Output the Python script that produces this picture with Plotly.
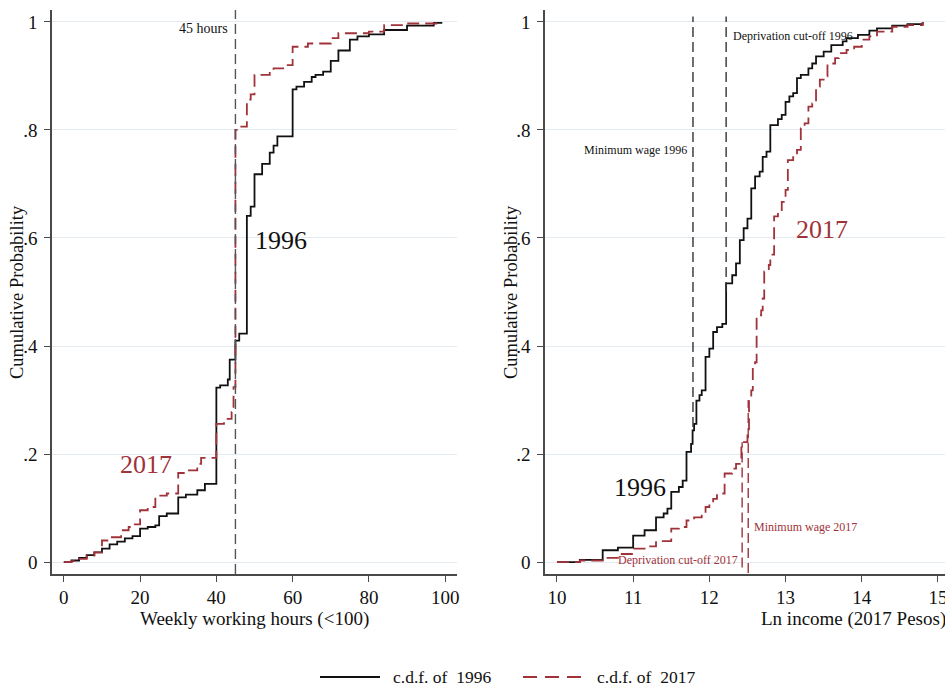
import plotly.graph_objects as go

# ---------------- data ----------------
# Left panel: weekly working hours
hours_1996_x = [0, 2, 4, 6, 8, 10, 12, 14, 16, 18, 20, 22, 24, 25, 27, 30, 32, 35, 37, 40, 41, 43, 43.5, 45, 46, 48, 49, 50, 52, 54, 55, 56, 60, 61, 63, 65, 66, 68, 70, 72, 75, 77, 80, 84, 90, 97, 99]
hours_1996_y = [0, 0.003, 0.008, 0.013, 0.018, 0.025, 0.033, 0.038, 0.044, 0.048, 0.062, 0.065, 0.068, 0.085, 0.090, 0.120, 0.125, 0.133, 0.145, 0.323, 0.327, 0.338, 0.375, 0.410, 0.423, 0.641, 0.658, 0.718, 0.737, 0.758, 0.771, 0.788, 0.875, 0.880, 0.889, 0.898, 0.902, 0.908, 0.928, 0.947, 0.967, 0.973, 0.977, 0.985, 0.993, 0.998, 1.0]

hours_2017_x = [0, 2, 4, 6, 8, 10, 12, 15, 17, 18, 20, 22, 24, 27, 30, 32, 35, 36, 40, 42, 44, 44.5, 45, 46, 48, 49, 50, 54, 55, 58, 60, 64, 70, 72, 80, 84, 90, 99]
hours_2017_y = [0, 0.002, 0.006, 0.012, 0.018, 0.040, 0.046, 0.059, 0.065, 0.070, 0.096, 0.102, 0.123, 0.127, 0.165, 0.170, 0.182, 0.193, 0.256, 0.265, 0.278, 0.324, 0.800, 0.806, 0.856, 0.866, 0.902, 0.908, 0.914, 0.920, 0.954, 0.960, 0.970, 0.979, 0.982, 0.994, 0.997, 1.0]

# Right panel: log income (2017 pesos)
inc_1996_x = [10.0, 10.3, 10.6, 10.8, 11.0, 11.15, 11.3, 11.4, 11.45, 11.5, 11.6, 11.65, 11.7, 11.76, 11.78, 11.8, 11.83, 11.87, 11.9, 11.95, 12.0, 12.05, 12.1, 12.17, 12.22, 12.3, 12.35, 12.4, 12.45, 12.5, 12.55, 12.6, 12.66, 12.7, 12.75, 12.8, 12.9, 12.95, 13.0, 13.05, 13.1, 13.15, 13.2, 13.3, 13.35, 13.4, 13.5, 13.6, 13.75, 13.8, 13.95, 14.1, 14.2, 14.4, 14.6, 14.8]
inc_1996_y = [0, 0.004, 0.022, 0.027, 0.049, 0.059, 0.083, 0.090, 0.099, 0.130, 0.139, 0.151, 0.204, 0.219, 0.244, 0.256, 0.299, 0.309, 0.318, 0.380, 0.395, 0.426, 0.435, 0.441, 0.516, 0.531, 0.553, 0.596, 0.618, 0.636, 0.692, 0.714, 0.723, 0.750, 0.760, 0.809, 0.820, 0.828, 0.852, 0.862, 0.868, 0.896, 0.902, 0.914, 0.923, 0.936, 0.945, 0.957, 0.964, 0.970, 0.976, 0.984, 0.988, 0.993, 0.996, 1.0]

inc_2017_x = [10.0, 10.3, 10.6, 10.8, 11.0, 11.2, 11.3, 11.5, 11.6, 11.7, 11.8, 11.9, 11.95, 12.0, 12.05, 12.1, 12.2, 12.3, 12.35, 12.42, 12.5, 12.52, 12.55, 12.57, 12.6, 12.62, 12.68, 12.7, 12.72, 12.78, 12.8, 12.85, 12.9, 12.95, 13.0, 13.03, 13.1, 13.15, 13.2, 13.25, 13.3, 13.35, 13.4, 13.45, 13.5, 13.55, 13.65, 13.7, 13.8, 13.9, 14.0, 14.1, 14.2, 14.4, 14.6, 14.8]
inc_2017_y = [0, 0.003, 0.008, 0.015, 0.025, 0.029, 0.039, 0.062, 0.065, 0.077, 0.083, 0.086, 0.102, 0.108, 0.117, 0.127, 0.164, 0.173, 0.182, 0.222, 0.238, 0.306, 0.318, 0.361, 0.370, 0.457, 0.466, 0.488, 0.538, 0.550, 0.569, 0.640, 0.649, 0.667, 0.689, 0.744, 0.753, 0.763, 0.803, 0.812, 0.843, 0.849, 0.880, 0.893, 0.899, 0.923, 0.933, 0.942, 0.948, 0.954, 0.967, 0.973, 0.982, 0.991, 0.994, 1.0]

# reference cut-offs
hours_cutoff = 45
min_wage_1996 = 11.785
depriv_1996 = 12.22
depriv_2017 = 12.43
min_wage_2017 = 12.51

y_tickvals = [0, 0.2, 0.4, 0.6, 0.8, 1.0]
y_ticktext = ["0", ".2", ".4", ".6", ".8", "1"]
hours_ticks = [0, 20, 40, 60, 80, 100]
inc_ticks = [10, 11, 12, 13, 14, 15]
legend_labels = ["c.d.f. of  1996", "c.d.f. of  2017"]

# ---------------- style ----------------
FONT = "Liberation Serif"
BLACK = "#111111"
RED = "#a0323a"
AXIS = "#4a4a4a"
GRID = "#e3ebf0"
W, H = 945, 686
CURVE_DASH = "12px,6px"

fig = go.Figure()

fig.add_trace(go.Scatter(x=hours_1996_x, y=hours_1996_y, mode="lines", line_shape="hv",
                         line=dict(color=BLACK, width=1.8), name=legend_labels[0],
                         showlegend=False, xaxis="x", yaxis="y"))
fig.add_trace(go.Scatter(x=hours_2017_x, y=hours_2017_y, mode="lines", line_shape="hv",
                         line=dict(color=RED, width=1.8, dash=CURVE_DASH), name=legend_labels[1],
                         showlegend=False, xaxis="x", yaxis="y"))
fig.add_trace(go.Scatter(x=inc_1996_x, y=inc_1996_y, mode="lines", line_shape="hv",
                         line=dict(color=BLACK, width=1.8), name=legend_labels[0], showlegend=False,
                         xaxis="x2", yaxis="y2"))
fig.add_trace(go.Scatter(x=inc_2017_x, y=inc_2017_y, mode="lines", line_shape="hv",
                         line=dict(color=RED, width=1.8, dash=CURVE_DASH), name=legend_labels[1],
                         showlegend=False, xaxis="x2", yaxis="y2"))

# domains in pixels -> paper
L1, R1 = 52, 457
L2, R2 = 545, 945
TOP, BOT = 10, 574
ydom = [1 - BOT / H, 1 - TOP / H]

axis_common = dict(showline=True, linecolor=AXIS, linewidth=1.6, ticks="outside",
                   ticklen=6, tickwidth=1.3, tickcolor=AXIS, zeroline=False, automargin=False,
                   tickfont=dict(family=FONT, size=19, color=BLACK))

fig.update_layout(
    xaxis=dict(domain=[L1 / W, R1 / W], range=[-3.1, 103.1], tickvals=hours_ticks,
               showgrid=False, anchor="y", ticklabelstandoff=-1, **axis_common),
    yaxis=dict(domain=ydom, range=[-0.022, 1.022], tickvals=y_tickvals, ticktext=y_ticktext,
               showgrid=True, gridcolor=GRID, gridwidth=1.3, anchor="x", ticklabelstandoff=3,
               **axis_common),
    xaxis2=dict(domain=[L2 / W, R2 / W], range=[9.843, 9.843 + (R2 - L2) / 76.2], tickvals=inc_ticks,
                showgrid=False, anchor="y2", ticklabelstandoff=-1, ticklabeloverflow="allow",
                **axis_common),
    yaxis2=dict(domain=ydom, range=[-0.022, 1.022], tickvals=y_tickvals, ticktext=y_ticktext,
                showgrid=True, gridcolor=GRID, gridwidth=1.3, anchor="x2", ticklabelstandoff=3,
                **axis_common),
)

dash_ref = "10px,5px"
shapes = [
    dict(type="line", xref="x", yref="y domain", x0=hours_cutoff, x1=hours_cutoff, y0=0, y1=1,
         line=dict(color="#555555", width=1.4, dash=dash_ref)),
    dict(type="line", xref="x2", yref="y2", x0=min_wage_1996, x1=min_wage_1996, y0=0.25, y1=1.01,
         line=dict(color="#333333", width=1.4, dash=dash_ref)),
    dict(type="line", xref="x2", yref="y2", x0=depriv_1996, x1=depriv_1996, y0=0.5, y1=1.01,
         line=dict(color="#333333", width=1.4, dash=dash_ref)),
    dict(type="line", xref="x2", yref="y2", x0=depriv_2017, x1=depriv_2017, y0=-0.01, y1=0.222,
         line=dict(color=RED, width=1.4, dash=dash_ref)),
    dict(type="line", xref="x2", yref="y2", x0=min_wage_2017, x1=min_wage_2017, y0=-0.02, y1=0.30,
         line=dict(color=RED, width=1.4, dash=dash_ref)),
    # legend keys
    dict(type="line", xref="paper", yref="paper", x0=320 / W, x1=380 / W, y0=1 - 677 / H, y1=1 - 677 / H,
         line=dict(color=BLACK, width=1.8)),
    dict(type="line", xref="paper", yref="paper", x0=523 / W, x1=583 / W, y0=1 - 677 / H, y1=1 - 677 / H,
         line=dict(color=RED, width=1.8, dash="14px,8px")),
]
fig.update_layout(shapes=shapes)

ann = []
def A(text, x, y, xref, yref, size, color=BLACK, xanchor="center", yanchor="middle", angle=0):
    ann.append(dict(text=text, x=x, y=y, xref=xref, yref=yref, showarrow=False,
                    font=dict(family=FONT, size=size, color=color), borderpad=0,
                    xanchor=xanchor, yanchor=yanchor, textangle=angle))

# left panel labels
A("45 hours", 43.2, 0.987, "x", "y", 14, xanchor="right")
A("1996", 49.9, 0.596, "x", "y", 26, xanchor="left")
A("2017", 14.4, 0.181, "x", "y", 26, color=RED, xanchor="left")
# right panel labels
A("2017", 13.12, 0.615, "x2", "y2", 26, color=RED, xanchor="left")
A("1996", 10.735, 0.139, "x2", "y2", 26, xanchor="left")
A("Minimum wage 1996", 11.72, 0.763, "x2", "y2", 12, xanchor="right")
A("Deprivation cut-off 1996", 12.30, 0.974, "x2", "y2", 12, xanchor="left")
A("Deprivation cut-off 2017", 12.39, 0.004, "x2", "y2", 12, color=RED, xanchor="right")
A("Minimum wage 2017", 12.57, 0.065, "x2", "y2", 12, color=RED, xanchor="left")

# axis titles
A("Weekly working hours (<100)", (L1 + R1) / 2 / W, 1 - 619 / H, "paper", "paper", 19)
A("Ln income (2017 Pesos)", 853 / W, 1 - 619 / H, "paper", "paper", 19)
A("Cumulative Probability", 17 / W, 1 - 292 / H, "paper", "paper", 18.5, angle=-90)
A("Cumulative Probability", 511 / W, 1 - 292 / H, "paper", "paper", 18.5, angle=-90)

# legend texts
A(legend_labels[0], 392 / W, 1 - 677 / H, "paper", "paper", 17.5, xanchor="left")
A(legend_labels[1], 596 / W, 1 - 677 / H, "paper", "paper", 17.5, xanchor="left")
fig.update_layout(annotations=ann)

fig.update_layout(
    width=W, height=H, margin=dict(l=0, r=0, t=0, b=0),
    paper_bgcolor="white", plot_bgcolor="white",
    showlegend=False,
)

fig.write_html("out.html")
